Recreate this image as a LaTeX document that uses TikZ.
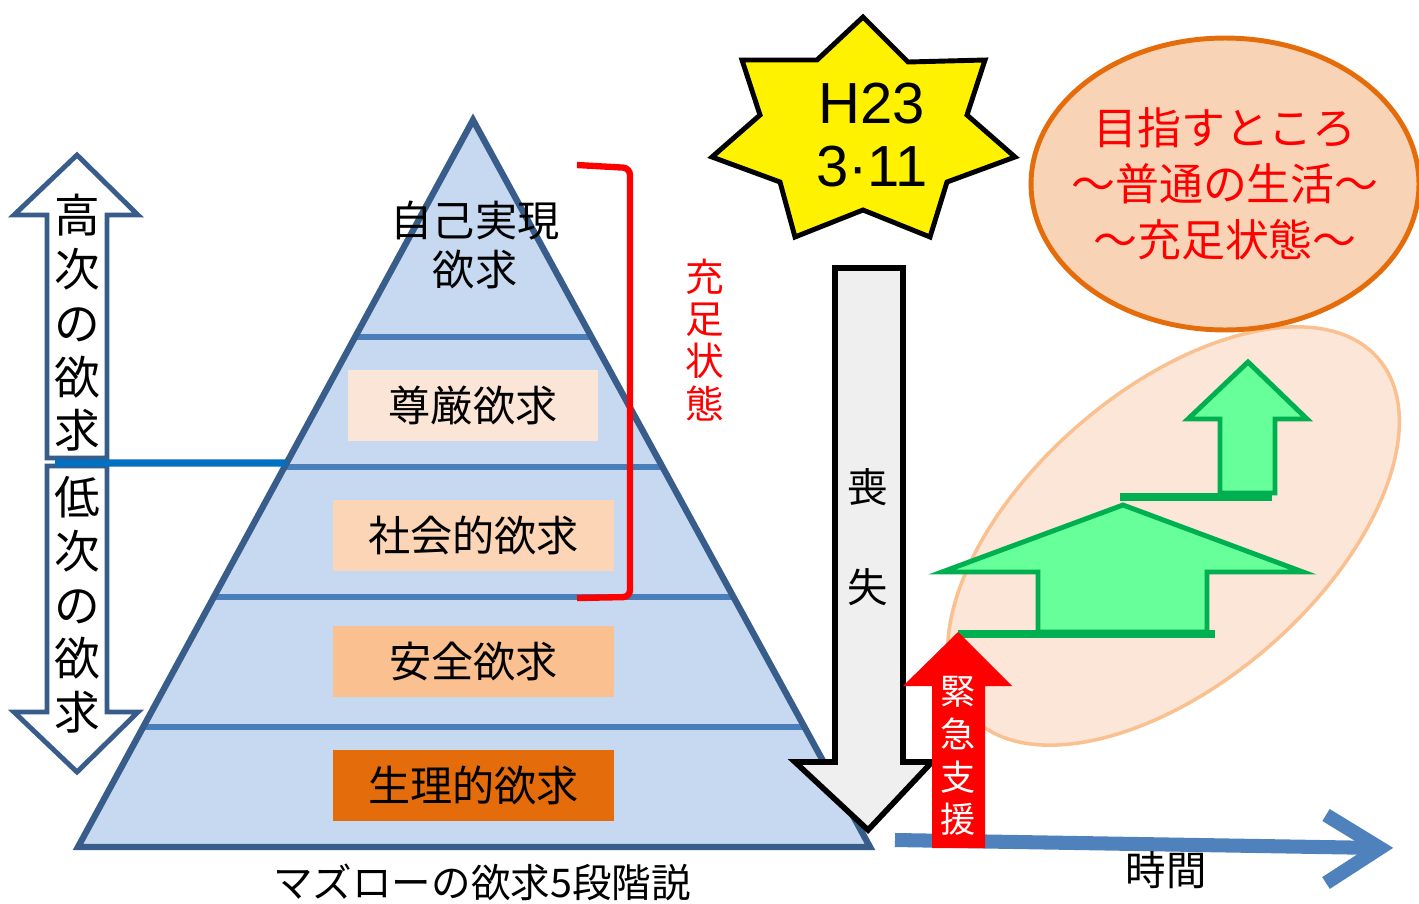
\documentclass[tikz,border=0pt]{standalone}
\usepackage{fontspec}
\setmainfont{Noto Sans CJK JP}
\newfontfamily\latinfont{Liberation Sans}
\usepackage{xcolor}
\usetikzlibrary{calc,shapes.geometric}

\definecolor{pyrfill}{HTML}{C6D9F1}
\definecolor{pyredge}{HTML}{385D8A}
\definecolor{layerblue}{HTML}{4A7EBB}
\definecolor{splitblue}{HTML}{0070C0}
\definecolor{esteemfill}{HTML}{FBE5D6}
\definecolor{socialfill}{HTML}{FBD5B5}
\definecolor{safefill}{HTML}{FAC090}
\definecolor{physfill}{HTML}{E46C0A}
\definecolor{lossgrey}{HTML}{EFEFEF}
\definecolor{timeblue}{HTML}{4F81BD}
\definecolor{zonefill}{HTML}{FBE6D7}
\definecolor{zoneedge}{HTML}{FAC090}
\definecolor{goalfill}{HTML}{F9D3B5}
\definecolor{goaledge}{HTML}{E46C0A}
\definecolor{upgreen}{HTML}{66FF99}
\definecolor{upedge}{HTML}{00B050}

\begin{document}
\begin{tikzpicture}[x=0.02cm, y=-0.02cm,
  layerline/.style={line width=3pt, layerblue},
  layerbox/.style={minimum width=5.62cm, minimum height=1.42cm, inner sep=0pt, font=\fontsize{24}{28}\selectfont},
  vtext/.style={align=center, inner sep=0pt},
  sidearrow/.style={draw=pyredge, fill=white, line width=2.8pt},
  greenarrow/.style={draw=upedge, fill=upgreen, line width=2.8pt},
  greenbar/.style={upedge, line width=4.5pt}]
\useasboundingbox (0,0) rectangle (1419,903);

% pyramid
\coordinate (apex) at (473,120);
\coordinate (bl) at (78,847);
\coordinate (br) at (870,847);
\fill[pyrfill] (apex) -- (bl) -- (br) -- cycle;
\foreach \t in {0.2985,0.4773,0.6561,0.835}
  \draw[layerline] ($(apex)!\t!(bl)$) -- ($(apex)!\t!(br)$);
\draw[line width=3.6pt, pyredge] (apex) -- (bl) -- (br) -- cycle;

\node[vtext, font=\fontsize{24}{28}\selectfont] (selfreal) at (475,245) {自己実現\\欲求};
\node[layerbox, fill=esteemfill, minimum width=5cm] (esteem) at (473,405.5) {尊厳欲求};
\node[layerbox, fill=socialfill] (social) at (473.5,535.5) {社会的欲求};
\node[layerbox, fill=safefill] (safety) at (473.5,661) {安全欲求};
\node[layerbox, fill=physfill] (phys) at (473.5,785) {生理的欲求};
\node[font=\fontsize{22.5}{26}\selectfont] (caption) at (482,882) {マズローの欲求5段階説};

% higher / lower needs
\draw[sidearrow] (77,155) -- (138,215) -- (107,215) -- (107,458) -- (47,458) -- (47,215) -- (14,215) -- cycle;
\draw[sidearrow] (47,466) -- (107,466) -- (107,712) -- (138,712) -- (77,772) -- (14,712) -- (47,712) -- cycle;
\draw[splitblue, line width=4pt] (55,463) -- ($(apex)!0.4718!(bl)$);
\node[vtext, font=\fontsize{26}{30.6}\selectfont] (higher) at (77,323) {高\\次\\の\\欲\\求};
\node[vtext, font=\fontsize{26}{30.6}\selectfont] (lower) at (77,605) {低\\次\\の\\欲\\求};

% satisfied bracket
\draw[red, line width=3.6pt, rounded corners=4pt] (577,165) -- (630,168) -- (630,597) -- (577,598);
\node[vtext, text=red, font=\fontsize{22}{24}\selectfont] (satisfied) at (705,340) {充\\足\\状\\態};

% 3.11
\draw[fill=yellow, line width=2.8pt] (863,17) -- (908,62) -- (985,60) -- (967,115) -- (1015,157) -- (947,182) -- (930,237)
  -- (863,210) -- (795,237) -- (780,182) -- (712,157) -- (760,115) -- (742,60) -- (817,60) -- cycle;
\node[align=center, font=\latinfont\fontsize{33}{36}\selectfont] (quake) at (872,135) {H23\\3·11};

% loss
\draw[fill=lossgrey, line width=3.2pt] (835,268) -- (903,268) -- (903,762) -- (932,762) -- (868,830) -- (795,762) -- (835,762) -- cycle;
\node[vtext, font=\fontsize{23}{57}\selectfont] (loss) at (868,537) {喪\\失};

% time axis
\coordinate (tstart) at (895,840);
\coordinate (tend) at (1380,848);
\draw[timeblue, line width=8pt] (tstart) -- (tend);
\draw[timeblue, line width=8pt] ($(tend)+(-54,-33)$) -- (tend) -- ($(tend)+(-54,35)$);
\node[font=\fontsize{23}{26}\selectfont] (time) at (1166,870) {時間};

% recovery
\node[ellipse, draw=zoneedge, fill=zonefill, line width=2pt, minimum width=10.84cm, minimum height=5.84cm, rotate=41] (zone) at (1173.5,536) {};
\node[ellipse, draw=goaledge, fill=goalfill, line width=2.8pt, minimum width=7.76cm, minimum height=5.84cm, inner sep=0pt] (goal) at (1225,184) {};
\node[vtext, text=red, font=\fontsize{25}{32}\selectfont] (goaltext) at (goal.center) {目指すところ\\〜普通の生活〜\\〜充足状態〜};
\draw[greenarrow] (1038,632) -- (1038,572) -- (942,572) -- (1123,505) -- (1303,572) -- (1207,572) -- (1207,632) -- cycle;
\draw[greenbar] (958,634) -- (1215,634);
\draw[greenbar] (1120,497) -- (1272,497);
\draw[greenarrow] (1220,493) -- (1220,419) -- (1188,419) -- (1248,362) -- (1307,419) -- (1275,419) -- (1275,493) -- cycle;

% emergency aid
\fill[red] (932,848) -- (932,686) -- (903,686) -- (958,632) -- (1012,686) -- (985,686) -- (985,848) -- cycle;
\node[vtext, text=white, font=\fontsize{20}{24.4}\selectfont] (aid) at (958,756) {緊\\急\\支\\援};
\end{tikzpicture}
\end{document}
